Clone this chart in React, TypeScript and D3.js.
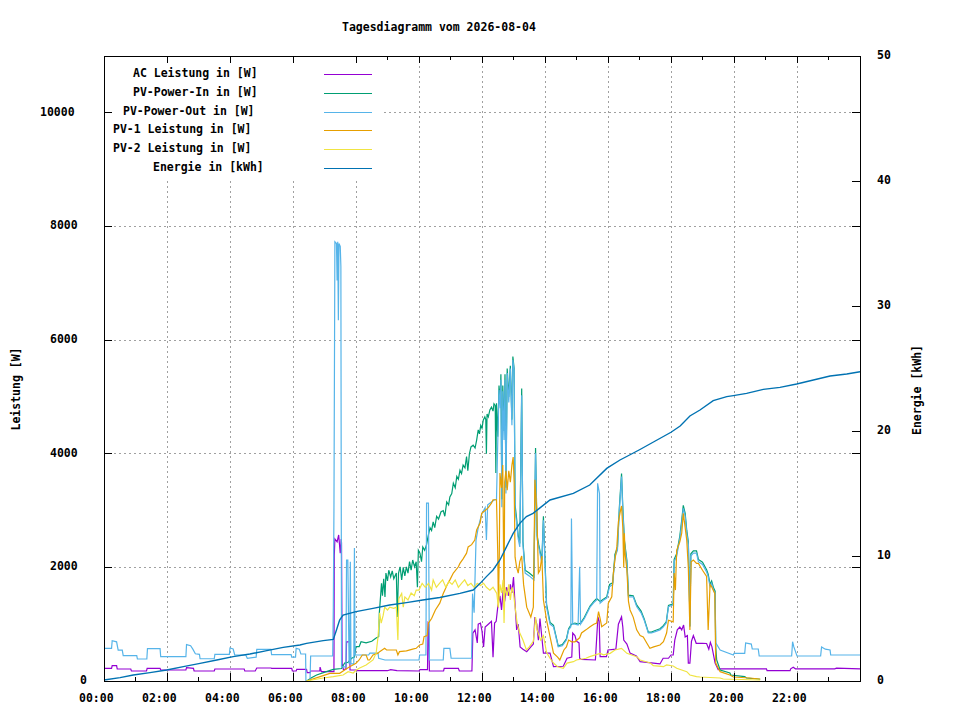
import * as React from 'react';
import * as d3 from 'd3';

// Werte vom Tagesdiagramm: [Stunde, Watt] bzw. [Stunde, kWh]
const acLeistung: [number, number][] = [
  [0, 223], [0.24, 223], [0.26, 270], [0.4, 270], [0.42, 211], [0.85, 211], [0.87, 176], [1.35, 176], [1.37, 223],
  [1.78, 223], [1.8, 194], [2.6, 194], [2.62, 235], [2.84, 223], [2.86, 176], [3.5, 176], [3.52, 211], [4.45, 211],
  [4.47, 176], [4.8, 176], [4.85, 229], [5.3, 229], [5.32, 223], [5.96, 223], [5.98, 176], [6.1, 176], [6.12, 205],
  [6.43, 205], [6.45, 146], [6.54, 146], [6.56, 176], [6.85, 176], [6.86, 245], [6.9, 164], [7.3, 164], [7.31, 2200],
  [7.33, 2500], [7.4, 2450], [7.45, 2570], [7.5, 2250], [7.53, 2500], [7.54, 2430], [7.56, 300], [7.6, 200],
  [7.68, 210], [7.7, 690], [7.8, 690], [7.81, 194], [8.0, 194], [8.02, 181], [9.0, 181], [9.1, 200], [9.3, 181],
  [10.0, 176], [10.03, 200], [10.27, 200], [10.29, 1020], [10.31, 1000], [10.33, 176], [10.78, 176], [10.8, 223],
  [11.25, 223], [11.28, 176], [11.68, 176], [11.71, 840], [11.78, 900], [11.85, 670], [11.88, 1000], [11.95, 1020],
  [12.0, 880], [12.05, 600], [12.1, 950], [12.2, 1000], [12.3, 1050], [12.35, 420], [12.4, 1020], [12.45, 1050],
  [12.5, 1300], [12.57, 1500], [12.62, 1250], [12.67, 1600], [12.72, 1400], [12.78, 1650], [12.85, 1500],
  [12.9, 1700], [12.95, 1550], [13.0, 1830], [13.05, 1350], [13.1, 900], [13.15, 1000], [13.21, 600], [13.3, 560],
  [13.42, 516], [13.55, 600], [13.63, 650], [13.68, 1125], [13.74, 1000], [13.79, 720], [13.84, 1100],
  [13.95, 490], [14.16, 490], [14.27, 252], [14.58, 260], [14.7, 400], [14.85, 420], [14.88, 845], [14.95, 800],
  [15.0, 700], [15.08, 670], [15.1, 400], [15.15, 380], [15.6, 370], [15.68, 1130], [15.72, 1050], [15.75, 430],
  [15.95, 430], [16.0, 546], [16.25, 560], [16.33, 1000], [16.43, 1130], [16.47, 950], [16.5, 720], [16.6, 650],
  [16.7, 490], [16.9, 440], [17.02, 340], [17.65, 300], [17.75, 400], [17.92, 400], [18.0, 458], [18.07, 458],
  [18.12, 720], [18.2, 900], [18.28, 950], [18.34, 900], [18.4, 985], [18.45, 775], [18.52, 800], [18.55, 316],
  [18.6, 316], [18.65, 700], [18.71, 800], [18.8, 663], [19.0, 663], [19.13, 660], [19.2, 560], [19.25, 680],
  [19.3, 600], [19.4, 316], [19.5, 200], [19.56, 215], [21.03, 215], [21.05, 181], [21.78, 181], [21.8, 215],
  [21.88, 241], [21.95, 215], [23.2, 215], [23.25, 225], [24, 215],
];

const pvPowerIn: [number, number][] = [
  [6.43, 0], [6.6, 60], [6.75, 106], [7.06, 164], [7.28, 205], [7.54, 220], [7.64, 316], [7.75, 330], [7.86, 400],
  [7.95, 420], [8.0, 604], [8.1, 604], [8.16, 692], [8.32, 670], [8.5, 700], [8.65, 760], [8.72, 780], [8.74, 1190],
  [8.81, 1720], [8.84, 1500], [8.88, 1800], [8.92, 1480], [8.95, 1900], [9.0, 1760], [9.04, 1950], [9.1, 1830],
  [9.15, 1940], [9.2, 1800], [9.28, 1900], [9.31, 1125], [9.35, 1900], [9.4, 2010], [9.45, 1780], [9.5, 2000],
  [9.55, 1850], [9.6, 2010], [9.65, 1900], [9.7, 2100], [9.75, 1950], [9.8, 2130], [9.86, 2010], [9.91, 2100],
  [9.95, 1650], [9.98, 2300], [10.03, 2250], [10.08, 2100], [10.12, 2360], [10.18, 2300], [10.24, 2400],
  [10.29, 2550], [10.35, 2700], [10.4, 2650], [10.45, 2800], [10.5, 2700], [10.56, 2900], [10.62, 2850],
  [10.7, 2980], [10.77, 3000], [10.82, 2900], [10.88, 3150], [10.94, 3100], [10.98, 3240], [11.04, 3300],
  [11.09, 3480], [11.15, 3400], [11.2, 3600], [11.25, 3550], [11.3, 3710], [11.35, 3650], [11.4, 3800],
  [11.46, 3750], [11.51, 3950], [11.55, 3700], [11.6, 4000], [11.65, 4120], [11.72, 4150], [11.78, 4100],
  [11.83, 4240], [11.88, 4420], [11.92, 4350], [11.96, 4500], [12.0, 4450], [12.04, 4590], [12.09, 4650],
  [12.12, 4600], [12.14, 4000], [12.16, 4700], [12.2, 4650], [12.25, 4770], [12.3, 4820], [12.35, 4750],
  [12.38, 4880], [12.42, 4850], [12.44, 3660], [12.46, 4890], [12.5, 4300], [12.54, 5200], [12.58, 4900],
  [12.6, 5400], [12.63, 3200], [12.66, 5200], [12.7, 4400], [12.73, 5400], [12.76, 3400], [12.8, 5500],
  [12.85, 5000], [12.9, 5550], [12.95, 4600], [12.98, 5710], [13.02, 5500], [13.05, 3100], [13.1, 2850],
  [13.15, 2560], [13.2, 2420], [13.26, 5150], [13.3, 2450], [13.37, 1950], [13.5, 1900], [13.65, 1830],
  [13.7, 4100], [13.75, 2560], [13.8, 2400], [13.9, 2130], [13.95, 2900], [14.05, 1350], [14.16, 1030],
  [14.27, 980], [14.42, 620], [14.55, 640], [14.68, 740], [14.75, 920], [14.84, 1000], [14.95, 1020],
  [15.05, 1000], [15.13, 1020], [15.25, 1120], [15.43, 1320], [15.55, 1400], [15.64, 1450], [15.75, 1400],
  [15.85, 1440], [15.96, 1480], [16.05, 1700], [16.15, 1730], [16.22, 2230], [16.3, 2350], [16.36, 3050],
  [16.43, 3650], [16.47, 3060], [16.52, 2480], [16.6, 2120], [16.65, 1510], [16.8, 1500], [16.91, 1340],
  [17.05, 1230], [17.15, 1090], [17.28, 860], [17.38, 860], [17.5, 890], [17.65, 920], [17.75, 970],
  [17.85, 1040], [17.92, 1330], [18.07, 1360], [18.1, 2140], [18.18, 2240], [18.28, 2550], [18.34, 2830],
  [18.39, 3090], [18.45, 2950], [18.5, 2650], [18.55, 2450], [18.58, 1760], [18.6, 970], [18.63, 2240],
  [18.71, 2290], [18.81, 2290], [18.87, 2140], [19.0, 2090], [19.13, 1960], [19.18, 1880], [19.24, 1700],
  [19.29, 1760], [19.35, 1640], [19.4, 1580], [19.42, 600], [19.45, 370], [19.56, 194], [19.87, 140],
  [19.9, 106], [20.34, 76], [20.4, 53], [20.76, 35], [20.83, 30],
];

const pvPowerOut: [number, number][] = [
  [0, 575], [0.24, 575], [0.26, 710], [0.4, 690], [0.43, 600], [0.45, 545], [0.58, 545], [0.61, 445], [1.04, 445],
  [1.06, 387], [1.36, 387], [1.38, 570], [1.78, 570], [1.8, 428], [2.6, 428], [2.62, 640], [2.75, 620],
  [2.82, 560], [2.9, 480], [3.03, 470], [3.05, 392], [3.5, 392], [3.52, 470], [3.98, 470], [4.0, 580],
  [4.1, 563], [4.15, 458], [4.5, 458], [4.55, 400], [4.83, 420], [4.85, 558], [5.3, 558], [5.32, 463],
  [5.94, 463], [5.96, 420], [6.08, 420], [6.1, 575], [6.2, 560], [6.25, 475], [6.4, 475], [6.41, 0], [6.54, 0],
  [6.56, 440], [7.26, 440], [7.28, 1300], [7.3, 3010], [7.33, 7730], [7.38, 7700], [7.4, 7050], [7.42, 7730],
  [7.44, 6350], [7.46, 7700], [7.5, 7650], [7.52, 7300], [7.54, 250], [7.68, 250], [7.7, 2130], [7.74, 2130],
  [7.78, 316], [7.8, 316], [7.82, 2100], [7.84, 300], [7.93, 300], [7.95, 2340], [7.97, 458], [8.4, 458],
  [8.44, 490], [8.7, 490], [8.72, 400], [8.92, 370], [10.0, 370], [10.02, 458], [10.22, 458], [10.24, 3130],
  [10.3, 3130], [10.33, 370], [10.77, 370], [10.79, 575], [10.98, 575], [11.02, 400], [11.67, 400],
  [11.7, 1540], [11.75, 1200], [11.81, 2480], [11.88, 2700], [11.94, 2830], [12.0, 2950], [12.1, 3050],
  [12.14, 2480], [12.18, 3100], [12.3, 3150], [12.4, 3190], [12.46, 3190], [12.5, 4200], [12.54, 5120],
  [12.58, 4800], [12.6, 5300], [12.63, 3060], [12.66, 5100], [12.7, 4240], [12.73, 5300], [12.76, 3300],
  [12.8, 5420], [12.85, 4900], [12.9, 5500], [12.95, 4500], [12.98, 5650], [13.02, 5470], [13.05, 3000],
  [13.1, 2780], [13.15, 2500], [13.2, 2360], [13.26, 5030], [13.3, 2400], [13.37, 1900], [13.5, 1850],
  [13.65, 1780], [13.7, 4010], [13.75, 2500], [13.8, 2360], [13.9, 2080], [13.95, 2830], [14.05, 1300],
  [14.16, 1000], [14.27, 955], [14.42, 604], [14.55, 620], [14.68, 720], [14.75, 900], [14.82, 955],
  [14.84, 2860], [14.88, 1000], [14.95, 1000], [15.05, 985], [15.1, 2010], [15.13, 1000], [15.25, 1100],
  [15.43, 1300], [15.55, 1380], [15.64, 1425], [15.67, 3480], [15.73, 3300], [15.75, 1370], [15.85, 1420],
  [15.96, 1460], [16.05, 1660], [16.15, 1700], [16.22, 2190], [16.3, 2300], [16.36, 3000], [16.43, 3600],
  [16.47, 3010], [16.52, 2430], [16.6, 2080], [16.65, 1480], [16.8, 1480], [16.91, 1310], [17.05, 1200],
  [17.15, 1070], [17.28, 845], [17.38, 845], [17.5, 870], [17.65, 900], [17.75, 950], [17.85, 1020],
  [17.92, 1310], [18.07, 1340], [18.1, 2100], [18.18, 2200], [18.28, 2500], [18.34, 2775], [18.39, 3040],
  [18.45, 2900], [18.5, 2600], [18.55, 2400], [18.58, 1720], [18.6, 950], [18.63, 2200], [18.71, 2250],
  [18.81, 2250], [18.87, 2100], [19.0, 2050], [19.13, 1920], [19.18, 1840], [19.24, 1660], [19.29, 1720],
  [19.35, 1600], [19.4, 1540], [19.42, 670], [19.56, 546], [19.98, 458], [20.0, 487], [20.34, 487],
  [20.37, 670], [20.55, 650], [20.58, 563], [20.77, 563], [20.8, 440], [21.83, 440], [21.86, 692], [21.9, 600],
  [22.0, 440], [22.75, 440], [22.78, 600], [22.9, 560], [23.05, 546], [23.07, 458], [24, 458],
];

const pv1Leistung: [number, number][] = [
  [6.43, 0], [6.86, 76], [7.17, 135], [7.48, 135], [7.64, 194], [7.8, 250], [8.0, 310], [8.1, 370], [8.2, 458],
  [8.32, 458], [8.38, 370], [8.43, 370], [8.54, 458], [8.7, 490], [8.75, 516], [8.91, 575], [8.97, 546],
  [9.28, 546], [9.33, 458], [9.38, 516], [9.6, 530], [9.8, 560], [9.91, 575], [10.02, 634], [10.12, 650],
  [10.16, 780], [10.26, 800], [10.3, 1020], [10.4, 1100], [10.52, 1250], [10.66, 1370], [10.77, 1540],
  [10.9, 1700], [10.98, 1780], [11.09, 1900], [11.25, 2010], [11.3, 2070], [11.4, 2150], [11.51, 2250],
  [11.56, 2360], [11.67, 2400], [11.77, 2480], [11.83, 2660], [11.94, 2780], [11.99, 2950], [12.1, 3000],
  [12.2, 3050], [12.3, 3130], [12.35, 3190], [12.46, 3190], [12.5, 2250], [12.52, 1300], [12.55, 2250],
  [12.57, 3660], [12.62, 3400], [12.66, 3800], [12.7, 1300], [12.72, 3500], [12.76, 3700], [12.8, 3360],
  [12.85, 3700], [12.9, 3500], [12.95, 3800], [12.99, 3940], [13.02, 3500], [13.05, 2180], [13.1, 2000],
  [13.15, 1900], [13.2, 2100], [13.26, 2200], [13.32, 1700], [13.42, 1300], [13.55, 1125], [13.63, 1300],
  [13.68, 3540], [13.74, 3000], [13.79, 1900], [13.84, 1950], [13.9, 2200], [13.95, 1425], [14.05, 1070],
  [14.16, 780], [14.27, 490], [14.4, 420], [14.47, 370], [14.6, 546], [14.68, 600], [14.75, 720], [14.85, 690],
  [14.95, 690], [15.1, 760], [15.16, 845], [15.3, 900], [15.43, 955], [15.55, 1000], [15.64, 1020],
  [15.7, 1220], [15.75, 1100], [15.8, 955], [15.96, 1020], [16.01, 1370], [16.12, 1480], [16.17, 1900],
  [16.22, 2130], [16.28, 2360], [16.33, 2800], [16.4, 3010], [16.43, 3080], [16.47, 2700], [16.5, 2000],
  [16.52, 2600], [16.54, 2250], [16.6, 1950], [16.65, 1400], [16.7, 1250], [16.8, 1125], [16.91, 900],
  [17.02, 800], [17.12, 775], [17.23, 670], [17.33, 575], [17.45, 600], [17.65, 634], [17.76, 692],
  [17.86, 845], [17.92, 1070], [18.07, 1040], [18.1, 1900], [18.14, 1600], [18.18, 2300], [18.28, 2450],
  [18.34, 2600], [18.39, 2950], [18.45, 2700], [18.5, 2480], [18.55, 2000], [18.6, 900], [18.64, 2100],
  [18.71, 2130], [18.81, 2070], [18.87, 2070], [19.0, 1950], [19.13, 1840], [19.18, 900], [19.24, 1700],
  [19.29, 1660], [19.39, 1540], [19.42, 316], [19.56, 164], [19.87, 106], [19.98, 70], [20.5, 53],
  [20.81, 35], [20.83, 30],
];

const pv2Leistung: [number, number][] = [
  [6.43, 0], [6.96, 53], [7.28, 76], [7.59, 106], [7.75, 164], [7.91, 140], [8.0, 190], [8.1, 223], [8.32, 282],
  [8.54, 370], [8.64, 490], [8.7, 780], [8.75, 1200], [8.8, 1020], [8.86, 1150], [8.91, 1300], [9.0, 1250],
  [9.07, 1300], [9.2, 1280], [9.28, 1300], [9.33, 720], [9.36, 1450], [9.45, 1540], [9.5, 1300], [9.55, 1480],
  [9.65, 1425], [9.75, 1550], [9.85, 1500], [9.91, 1600], [10.0, 1600], [10.1, 1720], [10.2, 1650],
  [10.3, 1720], [10.4, 1600], [10.45, 1780], [10.55, 1650], [10.65, 1720], [10.75, 1780], [10.85, 1650],
  [10.95, 1750], [11.05, 1700], [11.15, 1780], [11.25, 1650], [11.35, 1720], [11.45, 1780], [11.55, 1680],
  [11.65, 1720], [11.75, 1650], [11.85, 1720], [11.95, 1680], [12.05, 1720], [12.14, 1650], [12.25, 1600],
  [12.35, 1650], [12.47, 1540], [12.52, 1300], [12.57, 1700], [12.62, 1550], [12.67, 1780], [12.7, 1020],
  [12.73, 1650], [12.8, 1500], [12.85, 1700], [12.9, 1425], [12.95, 1650], [13.0, 1550], [13.05, 1300],
  [13.12, 1000], [13.2, 845], [13.3, 720], [13.41, 546], [13.5, 600], [13.63, 700], [13.7, 1125], [13.75, 900],
  [13.86, 720], [13.95, 800], [14.05, 500], [14.16, 400], [14.27, 316], [14.4, 250], [14.58, 223], [14.7, 316],
  [14.9, 340], [15.0, 370], [15.3, 400], [15.42, 428], [15.75, 487], [15.86, 460], [16.07, 487], [16.22, 546],
  [16.43, 575], [16.6, 487], [16.91, 428], [17.02, 370], [17.34, 316], [17.44, 270], [17.76, 252],
  [17.86, 282], [18.07, 264], [18.18, 223], [18.5, 164], [18.6, 106], [18.81, 76], [18.92, 70], [19.56, 53],
  [19.66, 35], [20.81, 18], [20.83, 18],
];

const energie: [number, number][] = [
  [0, 0.08], [0.51, 0.27], [0.93, 0.48], [1.46, 0.67], [1.99, 0.88], [2.52, 1.15], [3.05, 1.41], [3.58, 1.68],
  [4.1, 1.95], [4.63, 2.16], [5.17, 2.43], [5.69, 2.69], [6.22, 2.88], [6.43, 3.01], [6.96, 3.23], [7.28, 3.33],
  [7.38, 4.08], [7.48, 4.88], [7.59, 5.28], [8.0, 5.55], [8.54, 5.81], [9.07, 6.08], [9.6, 6.27], [10.12, 6.48],
  [10.66, 6.68], [11.3, 7.01], [11.72, 7.28], [11.94, 7.81], [12.14, 8.35], [12.35, 8.88], [12.57, 9.68],
  [12.78, 10.75], [12.99, 11.81], [13.2, 12.61], [13.41, 13.15], [13.62, 13.41], [13.84, 13.85], [14.16, 14.48],
  [14.9, 15.01], [15.42, 15.68], [15.96, 17.01], [16.38, 17.68], [16.7, 18.1], [17.0, 18.5], [17.5, 19.2],
  [18.0, 19.9], [18.29, 20.4], [18.6, 21.2], [18.92, 21.68], [19.34, 22.43], [19.77, 22.75], [19.98, 22.83],
  [20.4, 23.01], [20.93, 23.33], [21.46, 23.49], [21.99, 23.76], [22.52, 24.08], [23.05, 24.4], [23.58, 24.56],
  [24, 24.74],
];

const xTicks = [0, 2, 4, 6, 8, 10, 12, 14, 16, 18, 20, 22];
const xMinorTicks = [1, 3, 5, 7, 9, 11, 13, 15, 17, 19, 21, 23];
const yTicks = [0, 2000, 4000, 6000, 8000, 10000];
const y2Ticks = [0, 10, 20, 30, 40, 50];

const legendLabels = [
  'AC Leistung in [W]',
  'PV-Power-In in [W]',
  'PV-Power-Out in [W]',
  'PV-1 Leistung in [W]',
  'PV-2 Leistung in [W]',
  'Energie in [kWh]',
];
const colors = ['#9400d3', '#009e73', '#56b4e9', '#e69f00', '#f0e442', '#0072b2'];

const FONT = '"DejaVu Sans Mono", "Liberation Mono", monospace';

function Tagesdiagramm() {
  const ref = React.useRef<SVGSVGElement>(null);

  React.useEffect(() => {
    const svg = d3.select(ref.current);
    svg.selectAll('*').remove();

    const left = 104, right = 860, top = 56, bottom = 681;

    const x = d3.scaleLinear().domain([0, 24]).range([left, right]);
    const y = d3.scaleLinear().domain([0, 11000]).range([bottom, top]);
    const y2 = d3.scaleLinear().domain([0, 50]).range([bottom, top]);

    svg.append('rect').attr('width', 960).attr('height', 720).attr('fill', '#fff');

    // Gitter
    const grid = svg.append('g')
      .attr('stroke', '#a0a0a0')
      .attr('stroke-width', 1)
      .attr('stroke-dasharray', '2,3')
      .attr('shape-rendering', 'crispEdges');
    xTicks.filter(t => t > 0).forEach(t => {
      grid.append('line').attr('x1', x(t)).attr('x2', x(t)).attr('y1', top).attr('y2', bottom);
    });
    yTicks.filter(t => t > 0).forEach(t => {
      grid.append('line').attr('x1', left).attr('x2', right).attr('y1', y(t)).attr('y2', y(t));
    });

    // Legendenhintergrund
    svg.append('rect')
      .attr('x', left + 1).attr('y', top + 1)
      .attr('width', 383 - left).attr('height', 178 - top)
      .attr('fill', '#fff');

    // Kurven
    const plot = svg.append('g');
    const lineW = d3.line<[number, number]>().x(d => x(d[0])).y(d => y(d[1]));
    const lineE = d3.line<[number, number]>().x(d => x(d[0])).y(d => y2(d[1]));
    const series = [acLeistung, pvPowerIn, pvPowerOut, pv1Leistung, pv2Leistung];
    series.forEach((s, i) => {
      plot.append('path')
        .datum(s)
        .attr('d', lineW)
        .attr('fill', 'none')
        .attr('stroke', colors[i])
        .attr('stroke-width', 1.2);
    });
    plot.append('path')
      .datum(energie)
      .attr('d', lineE)
      .attr('fill', 'none')
      .attr('stroke', colors[5])
      .attr('stroke-width', 1.4);

    // Rahmen und Ticks
    const axes = svg.append('g').attr('stroke', '#000').attr('shape-rendering', 'crispEdges');
    axes.append('rect')
      .attr('x', left).attr('y', top)
      .attr('width', right - left).attr('height', bottom - top)
      .attr('fill', 'none').attr('stroke-width', 1);
    xTicks.forEach(t => {
      axes.append('line').attr('x1', x(t)).attr('x2', x(t)).attr('y1', bottom).attr('y2', bottom - 8);
      axes.append('line').attr('x1', x(t)).attr('x2', x(t)).attr('y1', top).attr('y2', top + 7);
    });
    xMinorTicks.forEach(t => {
      axes.append('line').attr('x1', x(t)).attr('x2', x(t)).attr('y1', bottom).attr('y2', bottom - 4);
      if (x(t) > 383) {
        axes.append('line').attr('x1', x(t)).attr('x2', x(t)).attr('y1', top).attr('y2', top + 4);
      }
    });
    yTicks.forEach(t => {
      axes.append('line').attr('x1', left).attr('x2', left + 8).attr('y1', y(t)).attr('y2', y(t));
      axes.append('line').attr('x1', right).attr('x2', right - 8).attr('y1', y(t)).attr('y2', y(t));
    });
    y2Ticks.forEach(t => {
      axes.append('line').attr('x1', right).attr('x2', right - 8).attr('y1', y2(t)).attr('y2', y2(t));
    });

    const text = svg.append('g')
      .attr('font-family', FONT)
      .attr('font-size', '11.5px')
      .attr('font-weight', 'bold')
      .attr('fill', '#000');

    const hhmm = (h: number) => d3.format('02d')(h) + ':00';
    xTicks.forEach(t => {
      text.append('text').attr('x', x(t) - 25).attr('y', 702).text(hhmm(t));
    });
    yTicks.forEach(t => {
      const s = String(t);
      text.append('text').attr('x', 90 - 10 * s.length).attr('y', y(t) + 3).text(s);
    });
    y2Ticks.forEach(t => {
      text.append('text').attr('x', 877).attr('y', y2(t) + 3).text(String(t));
    });

    text.append('text').attr('x', 342).attr('y', 31).text('Tagesdiagramm vom 2026-08-04');
    text.append('text')
      .attr('transform', 'translate(20,389) rotate(-90)')
      .attr('text-anchor', 'middle')
      .text('Leistung [W]');
    text.append('text')
      .attr('transform', 'translate(921,390) rotate(-90)')
      .attr('text-anchor', 'middle')
      .text('Energie [kWh]');

    // Legende
    legendLabels.forEach((label, i) => {
      const by = 77 + 18.8 * i;
      text.append('text').attr('x', 313 - 10 * label.length).attr('y', by).text(label);
      svg.append('line')
        .attr('x1', 324).attr('x2', 372)
        .attr('y1', Math.round(by - 3) + 0.5).attr('y2', Math.round(by - 3) + 0.5)
        .attr('stroke', colors[i]).attr('stroke-width', 1.2);
    });
  }, []);

  return <svg ref={ref} width={960} height={720} style={{ display: 'block' }} />;
}

export default function App() {
  return (
    <div style={{ position: 'absolute', left: 0, top: 0 }}>
      <Tagesdiagramm />
    </div>
  );
}
